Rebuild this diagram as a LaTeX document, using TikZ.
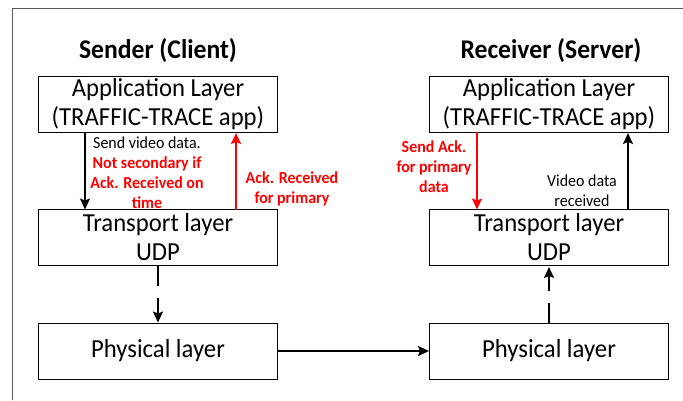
\documentclass[tikz,border=0pt]{standalone}
\usepackage{fontspec}
\setmainfont[FakeStretch=0.95]{Carlito}
\usetikzlibrary{arrows.meta}
\definecolor{ackred}{RGB}{255,0,0}
\tikzset{
  layerbox/.style={draw=black, line width=1pt, minimum width=239pt, minimum height=56pt, inner sep=0pt, align=center, font=\fontsize{26}{29}\selectfont},
  title/.style={font=\fontsize{27}{30}\selectfont\bfseries, inner sep=0pt},
  lbl/.style={font=\fontsize{16.8}{20}\selectfont, align=center, inner sep=0pt},
  redlbl/.style={lbl, text=ackred, font=\fontsize{16.8}{20}\selectfont\bfseries},
  flow/.style={line width=1.8pt, -{Stealth[length=11pt,width=10pt,inset=2pt]}},
  dflow/.style={flow, dash pattern=on 20pt off 12pt},
}
\begin{document}
\begin{tikzpicture}[x=1pt,y=-1pt]
\useasboundingbox (0,0) rectangle (683,400);
\draw[black!65, line width=1pt] (12.5,400) -- (12.5,8.5) -- (683,8.5);
\node[title] (st) at (158,51) {Sender (Client)};
\node[title] (rt) at (551,51) {Receiver (Server)};
\node[layerbox] (la) at (158,104) {Application Layer\\(TRAFFIC-TRACE app)};
\node[layerbox] (lt) at (158,237.5) {Transport layer\\UDP};
\node[layerbox] (lp) at (158,351) {Physical layer};
\node[layerbox] (ra) at (549,104) {Application Layer\\(TRAFFIC-TRACE app)};
\node[layerbox] (rt2) at (549,237.5) {Transport layer\\UDP};
\node[layerbox] (rp) at (549,351) {Physical layer};
% left side arrows
\coordinate (a1) at (85,132);
\coordinate (a2) at (85,209.5);
\draw[flow] (a1) -- (a2);
\coordinate (b1) at (236,209.5);
\coordinate (b2) at (236,133);
\draw[flow, ackred] (b1) -- (b2);
\node[lbl] (l1) at (147,173) {Send video data.\\\textcolor{ackred}{\bfseries Not secondary if}\\\textcolor{ackred}{\bfseries Ack. Received on}\\\textcolor{ackred}{\bfseries time}};
\node[redlbl] (l2) at (292,188.5) {Ack. Received\\for primary};
% right side arrows
\coordinate (c1) at (477,132);
\coordinate (c2) at (477,209.5);
\draw[flow, ackred] (c1) -- (c2);
\coordinate (d1) at (628,209.5);
\coordinate (d2) at (628,133);
\draw[flow] (d1) -- (d2);
\node[redlbl] (l3) at (434,166.5) {Send Ack.\\for primary\\data};
\node[lbl] (l4) at (582,191) {Video data\\received};
% dashed vertical
\draw[dflow] (lt.south) -- (lp.north);
\draw[dflow] (rp.north) -- ([yshift=-1pt]rt2.south);
% horizontal
\draw[flow] (lp.east) -- (rp.west);
\end{tikzpicture}
\end{document}
